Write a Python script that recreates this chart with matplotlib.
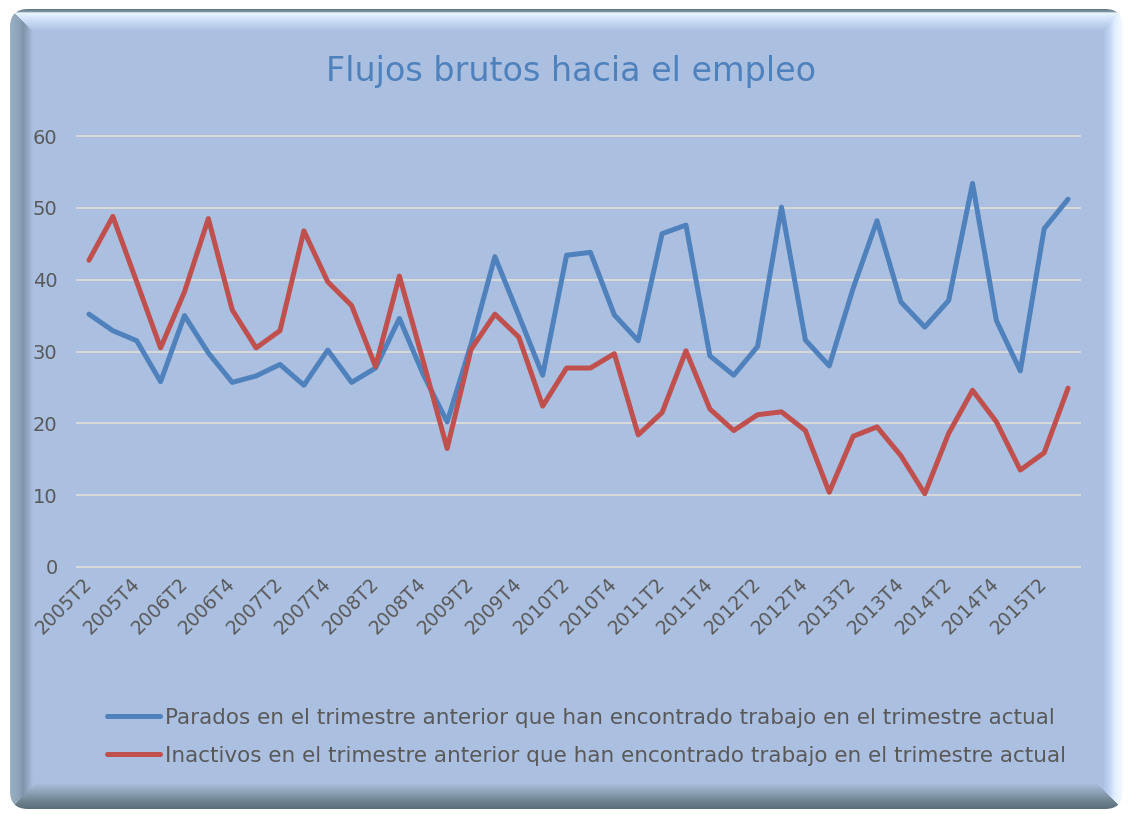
#!/usr/bin/env python3
"""
Flujos brutos hacia el empleo - parados e inactivos que encuentran trabajo
"""

import numpy as np
import matplotlib
matplotlib.use('Agg')
import matplotlib.pyplot as plt
from matplotlib.patches import FancyBboxPatch

# datos trimestrales 2005T2 - 2015T3
years = list(range(2005, 2016))
quarters = [f'{y}T{q}' for y in years for q in (1, 2, 3, 4)][1:-1]

parados = [35.2, 32.9, 31.5, 25.8, 35.0, 29.8, 25.7, 26.6, 28.2, 25.3,
           30.2, 25.7, 27.7, 34.6, 26.8, 20.2, 31.0, 43.2, 35.0, 26.7,
           43.4, 43.8, 35.1, 31.5, 46.4, 47.6, 29.4, 26.7, 30.7, 50.1,
           31.6, 28.0, 38.8, 48.2, 36.9, 33.4, 37.1, 53.4, 34.3, 27.3,
           47.1, 51.2]
inactivos = [42.7, 48.8, 39.7, 30.5, 38.3, 48.5, 35.8, 30.5, 32.9, 46.8,
             39.7, 36.4, 27.9, 40.5, 28.6, 16.5, 30.3, 35.2, 32.0, 22.4,
             27.7, 27.7, 29.7, 18.4, 21.5, 30.1, 22.0, 19.0, 21.2, 21.6,
             19.0, 10.4, 18.2, 19.5, 15.5, 10.2, 18.6, 24.6, 20.2, 13.5,
             15.9, 24.9]

serie_labels = ['Parados en el trimestre anterior que han encontrado trabajo en el trimestre actual',
                'Inactivos en el trimestre anterior que han encontrado trabajo en el trimestre actual']
y_ticks = [0, 10, 20, 30, 40, 50, 60]

W, H = 1132, 814
BLUE = '#4F81BD'
RED = '#C0504D'
TXT = '#595959'

plt.rcParams['font.family'] = ['DejaVu Sans']

fig = plt.figure(figsize=(W / 100, H / 100), dpi=100)
fig.patch.set_facecolor('white')

# ---- fondo con bisel (esquinas a inglete) ----
bg = fig.add_axes([0, 0, 1, 1])
bg.set_xlim(0, W)
bg.set_ylim(H, 0)
bg.axis('off')

X0, Y0, X1, Y1 = 10, 9, 1123, 809


def hexc(h):
    return np.array([int(h[i:i + 2], 16) for i in (1, 3, 5)]) / 255.0


base = hexc('#ABBFE0')
# perfiles de cada borde: (distancias, colores)
profiles = {
    'left': ([0, 9, 13, 16, 23], ['#9AAFC2', '#8DA3B8', '#7F94A9', '#8A9FB6', '#ABBFE0']),
    'top': ([0, 2.5, 4, 9, 22], ['#5E7480', '#7E93A0', '#E8F5FF', '#D4E5FB', '#ABBFE0']),
    'right': ([0, 8, 13, 20], ['#F6FBFF', '#E2EEFF', '#C4D7F5', '#ABBFE0']),
    'bottom': ([0, 8, 16, 26], ['#5A6E7A', '#6E838F', '#8CA0B4', '#ABBFE0']),
}

yy, xx = np.mgrid[0:H, 0:W] + 0.5
dist = np.stack([xx - X0, yy - Y0, X1 - xx, Y1 - yy])
which = np.argmin(dist, axis=0)
dmin = np.min(dist, axis=0)
img = np.ones((H, W, 3)) * base
for k, name in enumerate(['left', 'top', 'right', 'bottom']):
    ds, cols = profiles[name]
    cols = np.array([hexc(h) for h in cols])
    mask = which == k
    for ch in range(3):
        img[..., ch][mask] = np.interp(dmin[mask], ds, cols[:, ch])

im = bg.imshow(img, extent=(0, W, H, 0), interpolation='bilinear', aspect='auto')
frame = FancyBboxPatch((X0, Y0), X1 - X0, Y1 - Y0, boxstyle='round,pad=0,rounding_size=18',
                       transform=bg.transData, facecolor='none', edgecolor='none')
bg.add_patch(frame)
im.set_clip_path(frame)

# ---- grafico ----
ax = fig.add_axes([77 / W, (H - 567) / H, (1080 - 77) / W, (567 - 136) / H])
ax.patch.set_alpha(0)

x = np.arange(len(quarters))
ax.plot(x, parados, color=BLUE, lw=3.6, solid_joinstyle='round', solid_capstyle='round',
        label=serie_labels[0], zorder=3)
ax.plot(x, inactivos, color=RED, lw=3.6, solid_joinstyle='round', solid_capstyle='round',
        label=serie_labels[1], zorder=3)

ax.set_xlim(-0.5, len(quarters) - 0.5)
ax.set_ylim(0, 60)
ax.set_yticks(y_ticks)
ax.set_yticklabels([str(v) for v in y_ticks], fontsize=14, color=TXT)
ax.set_xticks(x[::2])
ax.set_xticklabels(quarters[::2], fontsize=13.5, color=TXT, rotation=45,
                   ha='right', va='center', rotation_mode='anchor')
ax.tick_params(axis='both', length=0)
ax.tick_params(axis='y', pad=14)
ax.tick_params(axis='x', pad=10)
ax.grid(True, axis='y', color='#D9D9D9', lw=1.4)
for gl in ax.get_ygridlines():
    gl.set_clip_on(False)
for s in ax.spines.values():
    s.set_visible(False)

fig.text(571.5 / W, 1 - 81 / H, 'Flujos brutos hacia el empleo', fontsize=24,
         color=BLUE, ha='center', va='baseline')

leg = fig.legend(loc='upper left', bbox_to_anchor=(107 / W, 1 - 708 / H),
                 bbox_transform=fig.transFigure, frameon=False, fontsize=15.5,
                 handlelength=2.45, handletextpad=0.23, labelspacing=0.82,
                 borderpad=0, borderaxespad=0, labelcolor=TXT)
for h in leg.get_lines():
    h.set_linewidth(3.6)
    h.set_solid_capstyle('round')

plt.savefig('out.png', dpi=100)
